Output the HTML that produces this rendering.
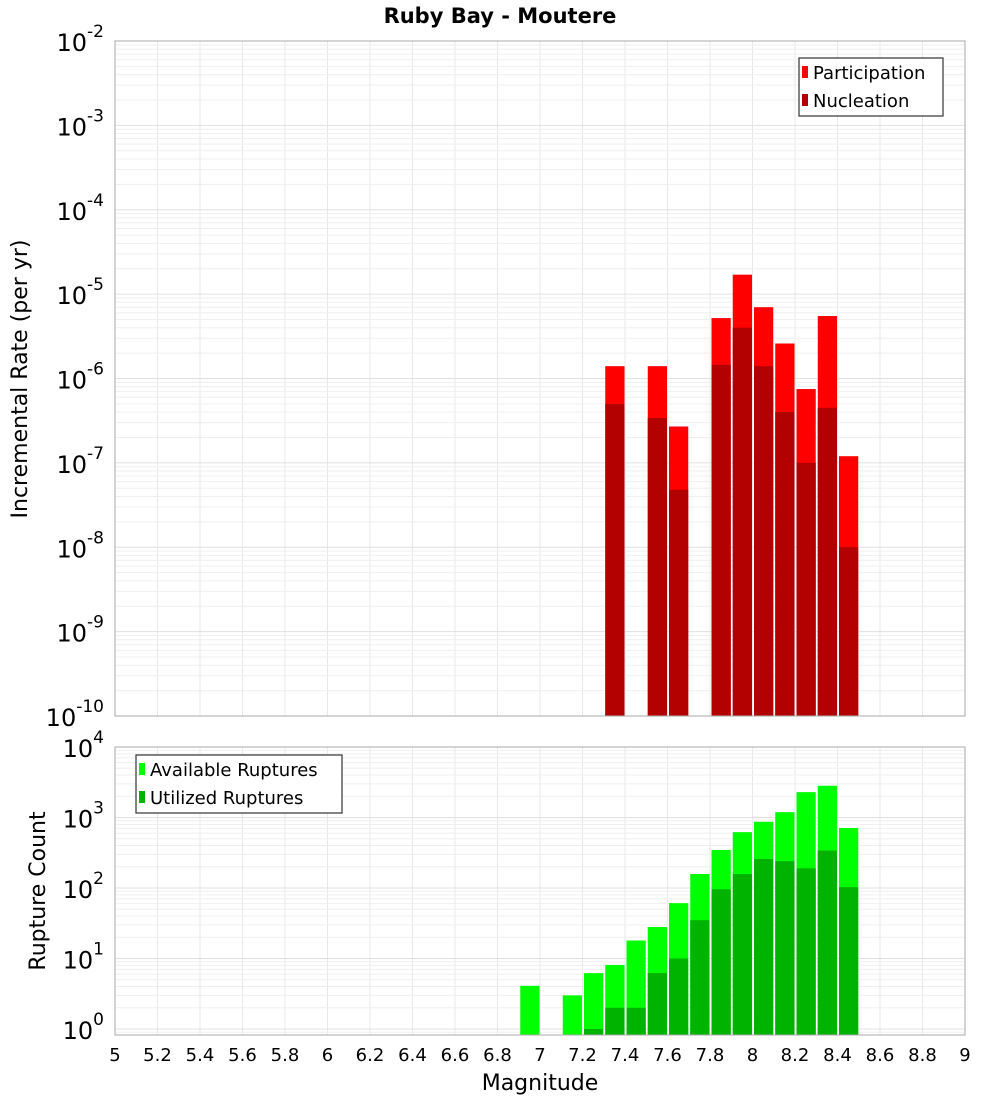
<!DOCTYPE html>
<html><head><meta charset="utf-8"><style>
body{margin:0;background:#fff;}
svg text{font-family:"DejaVu Sans","Liberation Sans",sans-serif;}
</style></head><body>
<svg id="chart" width="1000" height="1100" xmlns="http://www.w3.org/2000/svg">
<rect width="1000" height="1100" fill="#fff"/>
<text x="500" y="23" text-anchor="middle" font-size="21" font-weight="bold">Ruby Bay - Moutere</text>
<g id="top"></g><g id="bot"></g>
</svg>
<script>
const xTicks=[5,5.2,5.4,5.6,5.8,6,6.2,6.4,6.6,6.8,7,7.2,7.4,7.6,7.8,8,8.2,8.4,8.6,8.8,9];
const topBins=[7.3,7.5,7.6,7.8,7.9,8.0,8.1,8.2,8.3,8.4];
const participation=[1.4e-6,1.4e-6,2.7e-7,5.2e-6,1.7e-5,7e-6,2.6e-6,7.5e-7,5.5e-6,1.2e-7];
const nucleation=[5e-7,3.4e-7,4.8e-8,1.45e-6,4e-6,1.4e-6,4e-7,1e-7,4.5e-7,1e-8];
const botBins=[6.9,7.1,7.2,7.3,7.4,7.5,7.6,7.7,7.8,7.9,8.0,8.1,8.2,8.3,8.4];
const available=[4.1,3.0,6.2,8.1,18,28,61,158,347,620,870,1190,2290,2820,710];
const utilizedBins=[7.2,7.3,7.4,7.5,7.6,7.7,7.8,7.9,8.0,8.1,8.2,8.3,8.4];
const utilized=[1.0,2.0,2.0,6.2,10,35,96,158,258,240,190,340,103];
const topExp=[-2,-3,-4,-5,-6,-7,-8,-9,-10];
const botExp=[4,3,2,1,0];

const NS="http://www.w3.org/2000/svg";
const L=115,R=965;
const x=m=>L+(m-5)/4*(R-L);
function el(p,t,a){const e=document.createElementNS(NS,t);for(const k in a)e.setAttribute(k,a[k]);p.appendChild(e);return e;}
function panel(g,top,bottom,yLog,yMin,yMax,exps,name){
  // grid
  xTicks.forEach(t=>{const l=el(g,'line',{x1:x(t),x2:x(t),y1:top,y2:bottom,stroke:'#e8e8e8','stroke-width':1});
    });
  for(let d=Math.floor(yMin);d<Math.ceil(yMax);d++){for(let k=1;k<10;k++){const v=d+Math.log10(k);if(v<yMin||v>yMax)continue;
    const l=el(g,'line',{x1:L,x2:R,y1:yLog(v),y2:yLog(v),stroke:k==1?'#e0e0e0':'#efefef','stroke-width':1});
    }}
  exps.forEach(e=>{const t=el(g,'text',{x:104,y:yLog(e)+10,'text-anchor':'end','font-size':24});
    
    const a=el(t,'tspan',{});a.textContent='10';
    const b=el(t,'tspan',{dy:-14,'font-size':17});b.textContent=String(e);});
}
function bars(g,bins,vals,yLog,yMin,bottom,color,name){
  bins.forEach((m,i)=>{const x0=x(m)+1.5,x1=x(m+0.1)-0.5,yt=yLog(Math.log10(vals[i]));
    const r=el(g,'rect',{x:x0,y:yt,width:x1-x0,height:bottom-yt,fill:color});
    });
}
// top panel
const gT=document.getElementById('top');
const tT=41,tB=716;
const yT=v=>tT+(-2-v)/8*(tB-tT);
panel(gT,tT,tB,yT,-10,-2,topExp,'rate');
bars(gT,topBins,participation,yT,-10,tB,'#ff0000','participation');
bars(gT,topBins,nucleation,yT,-10,tB,'#b30000','nucleation');
el(gT,'rect',{x:L,y:tT,width:R-L,height:tB-tT,fill:'none',stroke:'#aaa'});
// bottom panel
const gB=document.getElementById('bot');
const bT=747,bB=1035,dec=70.5;
const yB=v=>bT+(4-v)*dec;
panel(gB,bT,bB,yB,4-(bB-bT)/dec,4,botExp,'count');
bars(gB,botBins,available,yB,0,bB,'#00ff00','available');
bars(gB,utilizedBins,utilized,yB,0,bB,'#00b300','utilized');
el(gB,'rect',{x:L,y:bT,width:R-L,height:bB-bT,fill:'none',stroke:'#aaa'});
// x ticks
xTicks.forEach(t=>{const tx=el(gB,'text',{x:x(t),y:1061,'text-anchor':'middle','font-size':18});
  tx.textContent=String(t);});
// axis titles
const xt=el(gB,'text',{x:540,y:1090,'text-anchor':'middle','font-size':22});
xt.textContent='Magnitude';
const yt1=el(gT,'text',{x:0,y:0,'text-anchor':'middle','font-size':22,transform:'translate(27,379) rotate(-90)'});
yt1.textContent='Incremental Rate (per yr)';
const yt2=el(gB,'text',{x:0,y:0,'text-anchor':'middle','font-size':22,transform:'translate(45,891) rotate(-90)'});
yt2.textContent='Rupture Count';
// legends
function legend(g,x0,y0,w,items,name){
  const lg=el(g,'g',{});
  el(lg,'rect',{x:x0,y:y0,width:w,height:58,fill:'#fff',stroke:'#333','stroke-width':1.2});
  items.forEach((it,i)=>{const e=el(lg,'g',{});
    el(e,'rect',{x:x0+3,y:y0+8+i*28,width:6,height:12,fill:it[1]});
    const t=el(e,'text',{x:x0+14,y:y0+21+i*28,'font-size':18});t.textContent=it[0];});
}
legend(gT,799,58,144,[['Participation','#ff0000'],['Nucleation','#b30000']],'rate-legend');
legend(gB,136,755,206,[['Available Ruptures','#00ff00'],['Utilized Ruptures','#00b300']],'count-legend');
</script>
</body></html>
